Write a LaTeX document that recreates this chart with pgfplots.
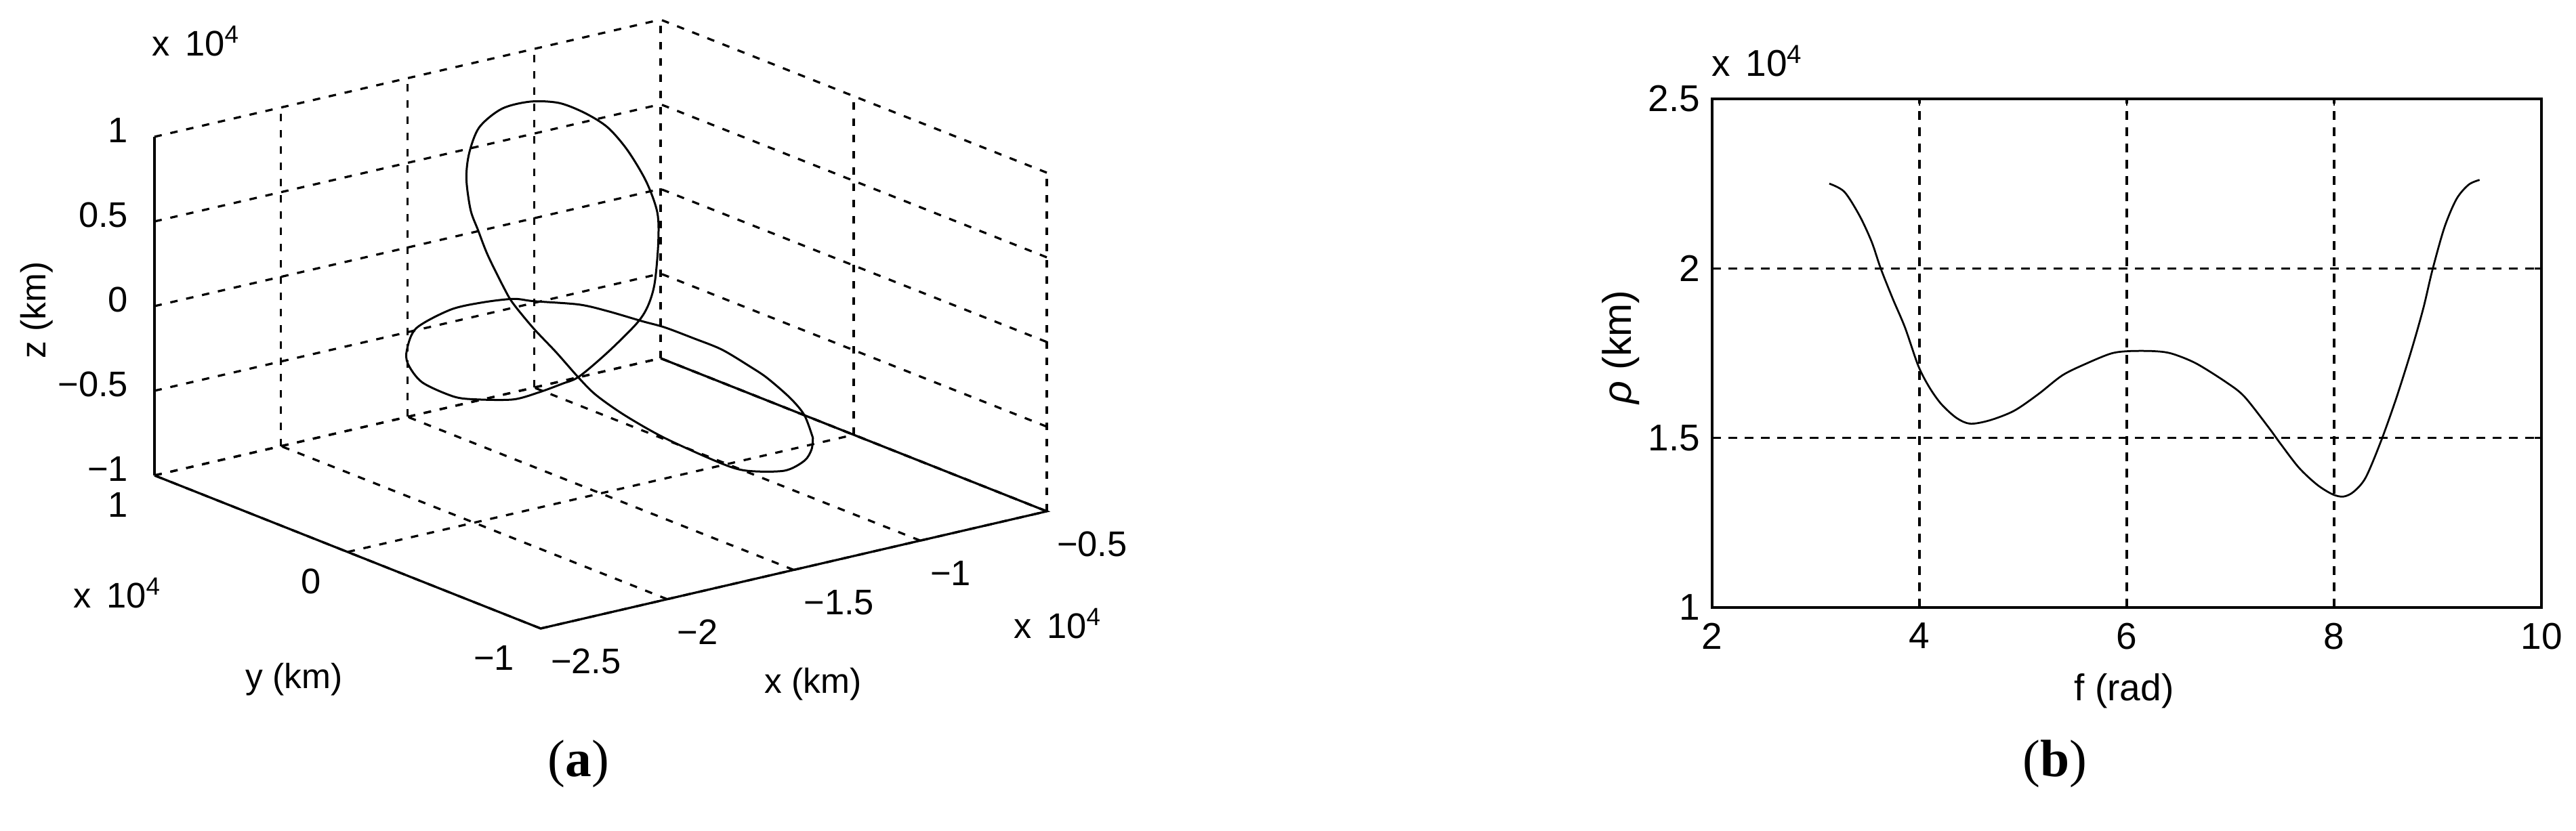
\documentclass[border=0pt]{standalone}
\usepackage{fontspec}
\setmainfont{Liberation Sans}
\newfontfamily\capfont{Liberation Serif}
\usepackage{pgfplots}
\pgfplotsset{compat=1.18}
\pgfplotstableread{
f rho
3.13 2.250
3.275 2.226
3.421 2.156
3.538 2.079
3.626 2.000
3.743 1.910
3.86 1.826
3.988 1.713
4.094 1.650
4.21 1.600
4.357 1.559
4.49 1.542
4.678 1.552
4.912 1.580
5.146 1.629
5.38 1.685
5.614 1.720
5.848 1.749
6.02 1.756
6.257 1.756
6.43 1.749
6.667 1.720
6.96 1.664
7.134 1.622
7.368 1.531
7.485 1.482
7.661 1.412
7.836 1.362
7.983 1.334
8.088 1.327
8.187 1.341
8.304 1.383
8.45 1.489
8.597 1.615
8.743 1.756
8.86 1.882
8.947 1.994
9.064 2.121
9.181 2.205
9.298 2.247
9.403 2.261
}\rhotable
\pgfplotstableread{
x y z
-1.261 -0.786 -0.40
-1.139 -0.582 -0.40
-1.077 -0.427 -0.39
-1.030 -0.247 -0.37
-1.022 -0.148 -0.35
-1.028 -0.009 -0.31
-1.070 0.084 -0.27
-1.116 0.172 -0.23
-1.155 0.239 -0.21
-1.220 0.331 -0.17
-1.282 0.398 -0.14
-1.417 0.457 -0.10
-1.474 0.486 -0.08
-1.607 0.474 -0.05
-1.752 0.447 -0.03
-1.975 0.332 -0.01
-2.144 0.159 0.00
-2.231 0.040 0.00
-2.312 -0.140 0.00
-2.323 -0.317 0.00
-2.295 -0.398 0.01
-2.224 -0.497 0.03
-2.147 -0.529 0.06
-2.068 -0.545 0.09
-2.013 -0.560 0.12
-1.875 -0.527 0.20
-1.730 -0.486 0.30
-1.658 -0.450 0.36
-1.593 -0.401 0.45
-1.493 -0.289 0.60
-1.404 -0.168 0.70
-1.320 0.000 0.78
-1.244 0.197 0.85
-1.182 0.381 0.88
-1.170 0.515 0.90
-1.182 0.632 0.91
-1.234 0.712 0.90
-1.328 0.736 0.88
-1.459 0.682 0.84
-1.582 0.573 0.78
-1.665 0.479 0.70
-1.724 0.380 0.58
-1.746 0.313 0.50
-1.776 0.222 0.40
-1.757 0.159 0.22
-1.740 0.137 0.14
-1.758 0.010 0.06
-1.789 -0.149 0.00
-1.841 -0.335 -0.05
-1.852 -0.438 -0.10
-1.822 -0.546 -0.18
-1.759 -0.671 -0.28
-1.671 -0.851 -0.38
-1.610 -0.904 -0.42
-1.485 -0.932 -0.45
-1.383 -0.902 -0.44
-1.315 -0.850 -0.42
-1.261 -0.786 -0.40
}\orbittable
\newcommand\tl{\fontsize{10.5}{12}\selectfont}
\newcommand\lbl{\fontsize{10.3}{12}\selectfont}
\newcommand\tenf{x\kern4.6pt 10\textsuperscript{4}}
\tikzset{
  zlab/.style={anchor=east, inner sep=0pt, font=\tl, xshift=-7.6pt, yshift=2pt},
  ylab/.style={anchor=east, inner sep=0pt, font=\tl, xshift=-7.6pt, yshift=-8.6pt},
  xlab/.style={anchor=west, inner sep=0pt, font=\tl, xshift=2.8pt, yshift=-9.6pt},
}
\begin{document}
\begin{tikzpicture}
\useasboundingbox (0,0) rectangle (760.4pt,245.4pt);
% ---------- (a) 3D ----------
\begin{axis}[
  at={(45.6pt,59.8pt)}, anchor=south west,
  x={(74.7pt,17.3pt)}, y={(-57pt,22.6pt)}, z={(0pt,50pt)},
  xmin=-2.5, xmax=-0.5, ymin=-1, ymax=1, zmin=-1, zmax=1,
  xtick={-2.5,-2,-1.5,-1,-0.5}, ytick={-1,0,1}, ztick={-1,-0.5,0,0.5,1},
  xticklabels={}, yticklabels={}, zticklabels={},
  major tick length=0pt,
  grid=major,
  major grid style={black, line width=0.65pt, dash pattern=on 2.2pt off 2.6pt},
  axis line style={draw=none},
  clip=false,
]
\addplot3[black, line width=0.6pt, smooth, tension=0.5] table[x=x,y=y,z=z] {\orbittable};
\draw[black, line width=0.65pt] (axis cs:-2.5,1,-1) -- (axis cs:-2.5,1,1);
\draw[black, line width=0.65pt] (axis cs:-2.5,1,-1) -- (axis cs:-2.5,-1,-1) -- (axis cs:-0.5,-1,-1) -- (axis cs:-0.5,1,-1);
% z tick labels
\node[zlab] at (axis cs:-2.5,1,1) {1};
\node[zlab] at (axis cs:-2.5,1,0.5) {0.5};
\node[zlab] at (axis cs:-2.5,1,0) {0};
\node[zlab] at (axis cs:-2.5,1,-0.5) {−0.5};
\node[zlab] at (axis cs:-2.5,1,-1) {−1};
% y tick labels
\node[ylab] at (axis cs:-2.5,1,-1) {1};
\node[ylab] at (axis cs:-2.5,0,-1) {0};
\node[ylab] at (axis cs:-2.5,-1,-1) {−1};
% x tick labels
\node[xlab] at (axis cs:-2.5,-1,-1) {−2.5};
\node[xlab] at (axis cs:-2,-1,-1) {−2};
\node[xlab] at (axis cs:-1.5,-1,-1) {−1.5};
\node[xlab] at (axis cs:-1,-1,-1) {−1};
\node[xlab] at (axis cs:-0.5,-1,-1) {−0.5};
\end{axis}
\node[anchor=base west, inner sep=0pt, font=\tl] at (44.6pt,228.8pt) {\tenf};
\node[anchor=base west, inner sep=0pt, font=\tl] at (21.4pt,65.8pt) {\tenf};
\node[anchor=base west, inner sep=0pt, font=\tl] at (299pt,56.8pt) {\tenf};
\node[rotate=90, inner sep=0pt, font=\lbl] at (10.8pt,153.8pt) {z (km)};
\node[inner sep=0pt, font=\lbl] at (86.8pt,44.8pt) {y (km)};
\node[inner sep=0pt, font=\lbl] at (240pt,43.4pt) {x (km)};
% ---------- (b) 2D ----------
\begin{axis}[
  at={(505.4pt,66pt)}, anchor=south west, scale only axis,
  width=244.8pt, height=150.2pt,
  xmin=2, xmax=10, ymin=1, ymax=2.5,
  xtick={2,4,6,8,10}, ytick={1,1.5,2,2.5},
  xticklabels={2,4,6,8,10}, yticklabels={1,1.5,2,2.5},
  tick align=inside, major tick length=2pt,
  tick style={black, line width=0.55pt},
  grid=major,
  major grid style={black, line width=0.7pt, dash pattern=on 2.6pt off 2.2pt},
  axis line style={black, line width=0.65pt},
  ticklabel style={font=\fontsize{11}{13}\selectfont},
  xticklabel style={yshift=-1pt},
  clip=false,
]
\addplot[black, line width=0.55pt, smooth] table[x=f,y=rho] {\rhotable};
\end{axis}
\node[anchor=base west, inner sep=0pt, font=\fontsize{11}{13}\selectfont] at (505pt,222.8pt) {\tenf};
\node[rotate=90, inner sep=0pt, font=\fontsize{11.8}{13}\selectfont] at (478.5pt,142.9pt) {{\itshape ρ} (km)};
\node[inner sep=0pt, font=\fontsize{11}{13}\selectfont] at (627pt,41.4pt) {f (rad)};
% captions
\node[inner sep=0pt, font=\capfont\fontsize{15.5}{18}\selectfont] at (170.8pt,19.8pt) {(\textbf{a})};
\node[inner sep=0pt, font=\capfont\fontsize{15.5}{18}\selectfont] at (606.6pt,19.8pt) {(\textbf{b})};
\end{tikzpicture}
\end{document}
